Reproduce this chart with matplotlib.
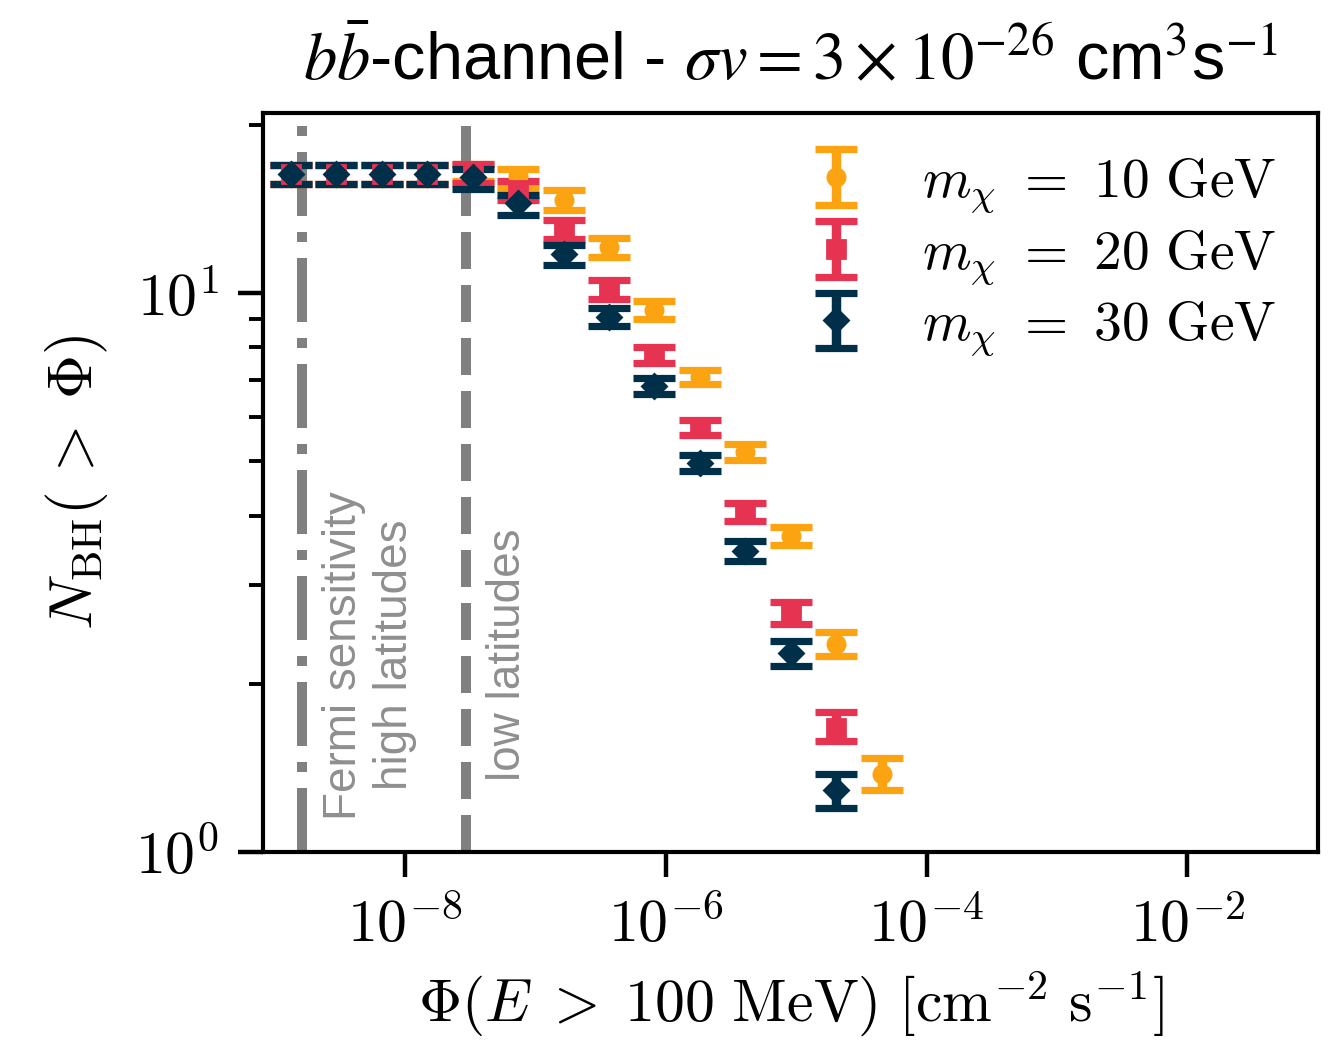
import matplotlib
matplotlib.use("Agg")
import matplotlib.pyplot as plt
import numpy as np
from matplotlib.ticker import FixedLocator, FuncFormatter, NullLocator

plt.rcParams['mathtext.fontset'] = 'cm'
plt.rcParams['axes.linewidth'] = 1.5

# flux bins [cm^-2 s^-1]
phi = [1.34e-9, 2.98e-9, 6.65e-9, 1.48e-8, 3.31e-8, 7.38e-8, 1.65e-7,
       3.67e-7, 8.19e-7, 1.83e-6, 4.07e-6, 9.09e-6, 2.03e-5, 4.52e-5]

# N_BH(>Phi) for each mass, with lower / upper error bar ends
n_10 = [16.31, 16.31, 16.31, 16.31, 16.40, 16.19, 14.67, 12.07, 9.32, 7.09, 5.20, 3.67, 2.36, 1.38]
lo_10 = [15.65, 15.65, 15.65, 15.65, 15.86, 15.41, 14.08, 11.60, 8.99, 6.87, 5.02, 3.54, 2.24, 1.29]
hi_10 = [16.94, 16.94, 16.94, 16.94, 17.05, 16.68, 15.29, 12.54, 9.70, 7.29, 5.38, 3.82, 2.48, 1.47]

n_20 = [16.31, 16.31, 16.31, 16.31, 16.37, 15.29, 12.99, 10.15, 7.75, 5.76, 4.06, 2.68, 1.67]
lo_20 = [15.65, 15.65, 15.65, 15.65, 15.73, 14.67, 12.51, 9.78, 7.49, 5.57, 3.91, 2.56, 1.58]
hi_20 = [16.94, 16.94, 16.94, 16.94, 17.03, 15.88, 13.49, 10.54, 8.00, 5.94, 4.22, 2.80, 1.78]

n_30 = [16.31, 16.31, 16.31, 16.31, 16.15, 14.49, 11.73, 9.07, 6.82, 4.97, 3.46, 2.27, 1.29]
lo_30 = [15.65, 15.65, 15.65, 15.65, 15.35, 13.79, 11.25, 8.72, 6.60, 4.80, 3.32, 2.15, 1.20]
hi_30 = [16.94, 16.94, 16.94, 16.94, 16.71, 14.97, 12.18, 9.39, 7.06, 5.14, 3.60, 2.39, 1.38]

masses = [10, 20, 30]
colors = ['#fca311', '#e63352', '#003049']
markers = ['o', 's', 'D']

phi_high = 1.63e-9   # Fermi sensitivity, high latitudes
phi_low = 2.93e-8    # low latitudes

xticks = [1e-8, 1e-6, 1e-4, 1e-2]

fig = plt.figure(figsize=(6.665, 5.2), dpi=200)
ax = fig.add_axes([0.1973, 0.1808, 0.7914, 0.7105])

series = [(n_10, lo_10, hi_10), (n_20, lo_20, hi_20), (n_30, lo_30, hi_30)]
for (n, lo, hi), m, c, mk in zip(series, masses, colors, markers):
    n = np.array(n)
    x = np.array(phi[:len(n)])
    yerr = [n - np.array(lo), np.array(hi) - n]
    ax.errorbar(x, n, yerr=yerr, fmt=mk, color=c, ms=6.2,
                elinewidth=3.4, capsize=7.5, capthick=2.6,
                label=r'$m_{\chi}\ =\ %d\ \mathrm{GeV}$' % m)

ax.axvline(phi_high, color='gray', ls='-.', lw=3.6, zorder=0)
ax.axvline(phi_low, color='gray', ls='--', lw=3.6, zorder=0)
ax.text(phi_high * 3.3, 2.25, 'Fermi sensitivity\nhigh latitudes', rotation=90,
        ha='center', va='center', multialignment='center', color='#8f8f8f',
        fontsize=16.5, family='Liberation Sans', linespacing=1.2)
ax.text(phi_low * 2.1, 2.25, 'low latitudes', rotation=90, ha='center', va='center',
        color='#8f8f8f', fontsize=16.5, family='Liberation Sans')

ax.set_xscale('log')
ax.set_yscale('log')
ax.set_xlim(8.2e-10, 1e-1)
ax.set_ylim(1, 21)
ax.xaxis.set_major_locator(FixedLocator(xticks))
ax.xaxis.set_minor_locator(NullLocator())
ax.yaxis.set_major_locator(FixedLocator([1, 10]))
sci = FuncFormatter(lambda v, pos: r'$10^{%d}$' % round(np.log10(v)))
ax.xaxis.set_major_formatter(sci)
ax.yaxis.set_major_formatter(sci)
ax.tick_params(which='major', length=9, width=1.6, labelsize=21.5, pad=7)
ax.tick_params(which='minor', length=5, width=1.4, labelleft=False)

ax.set_xlabel(r'$\Phi(E\;>\;100\ \mathrm{MeV})\ [\mathrm{cm}^{-2}\ \mathrm{s}^{-1}]$',
              fontsize=21.5, labelpad=5)
ax.set_ylabel(r'$N_{\mathrm{BH}}(\,>\;\Phi)$', fontsize=22, labelpad=9)
ax.set_title(r'$b\bar{b}$-channel - $\sigma v = 3\times10^{-26}$ cm$^3$s$^{-1}$',
             fontsize=24, family=['Liberation Sans', 'DejaVu Sans'],
             math_fontfamily='stix', pad=12)

ax.legend(loc='upper right', frameon=False, fontsize=20, handlelength=1.6,
          handletextpad=0.75, borderaxespad=0.35, labelspacing=0.2)

fig.savefig('out.png', dpi=200)
